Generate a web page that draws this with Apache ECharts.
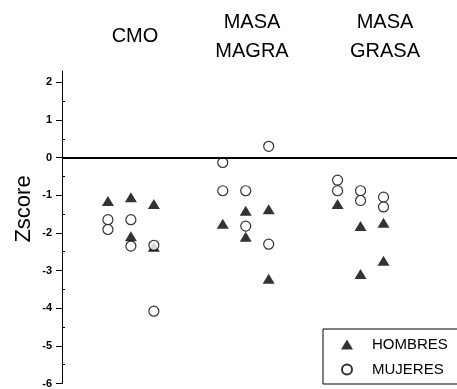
<!DOCTYPE html>
<html>
<head>
<meta charset="utf-8">
<script src="https://cdn.jsdelivr.net/npm/echarts@6/dist/echarts.min.js"></script>
<style>
html,body{margin:0;padding:0;background:#fff;}
#c{width:457px;height:389px;}
</style>
</head>
<body>
<div id="c"></div>
<script>
// Group titles and tick values
const groupTitles = ['CMO', 'MASA\nMAGRA', 'MASA\nGRASA'];
const yTicks = [-6, -5, -4, -3, -2, -1, 0, 1, 2];
const yMinorTicks = [-5.5, -4.5, -3.5, -2.5, -1.5, -0.5, 0.5, 1.5];

// HOMBRES: [x position, Zscore]
const hombres = [
  [1, -1.15], [2, -1.05], [2, -2.09], [3, -1.23], [3, -2.37],
  [6, -1.76], [7, -1.41], [7, -2.10], [8, -1.37], [8, -3.22],
  [11, -1.23], [12, -1.82], [12, -3.09], [13, -1.73], [13, -2.74]
];
// MUJERES: [x position, Zscore]
const mujeres = [
  [1, -1.65], [1, -1.91], [2, -1.65], [2, -2.35], [3, -2.33], [3, -4.08],
  [6, -0.13], [6, -0.88], [7, -0.88], [7, -1.82], [8, 0.30], [8, -2.30],
  [11, -0.60], [11, -0.88], [12, -0.88], [12, -1.14], [13, -1.05], [13, -1.31]
];

const FONT = 'Liberation Sans, Arial, sans-serif';
const chart = echarts.init(document.getElementById('c'));
chart.setOption({
  animation: false,
  backgroundColor: '#fff',
  grid: { left: 62, right: 0, top: 71, bottom: 4 },
  xAxis: { type: 'value', min: -1, max: 16.2, show: false },
  yAxis: [{
    type: 'value', min: -6, max: 2.3, interval: 1,
    axisLine: { show: true, onZero: false, lineStyle: { color: '#000', width: 1 } },
    axisTick: { show: true, length: 6, lineStyle: { color: '#000' }, customValues: yTicks },
    axisLabel: { customValues: yTicks, color: '#000', fontWeight: 'bold', fontSize: 11, fontFamily: FONT, margin: 10 },
    splitLine: { show: false }
  }, {
    type: 'value', min: -6, max: 2.3, position: 'left', offset: 0,
    axisLine: { show: false, onZero: false },
    axisTick: { show: true, inside: true, length: 3, lineStyle: { color: '#000' }, customValues: yMinorTicks },
    axisLabel: { show: false },
    splitLine: { show: false }
  }],
  legend: {
    orient: 'vertical', left: 323, top: 329,
    data: ['HOMBRES', 'MUJERES'],
    borderColor: '#000', borderWidth: 1, borderRadius: 0,
    padding: [8, 20, 7, 18], itemWidth: 12, itemHeight: 10, itemGap: 10,
    textStyle: { fontSize: 15, fontFamily: FONT, color: '#000', padding: [0, 0, 0, 14] }
  },
  graphic: [
    { type: 'text', x: 135, y: 36, style: { text: groupTitles[0], fill: '#000', font: '20px ' + FONT, textAlign: 'center', textVerticalAlign: 'middle' } },
    { type: 'text', x: 252, y: 37, style: { text: groupTitles[1], fill: '#000', font: '20px ' + FONT, lineHeight: 29, textAlign: 'center', textVerticalAlign: 'middle' } },
    { type: 'text', x: 385, y: 37, style: { text: groupTitles[2], fill: '#000', font: '20px ' + FONT, lineHeight: 29, textAlign: 'center', textVerticalAlign: 'middle' } },
    { type: 'text', x: 24, y: 209, rotation: Math.PI / 2, style: { text: 'Zscore', fill: '#000', font: '22px ' + FONT, textAlign: 'center', textVerticalAlign: 'middle' } }
  ],
  series: [
    {
      name: 'HOMBRES', type: 'scatter', data: hombres, z: 3,
      symbol: 'triangle', symbolSize: [12, 10],
      itemStyle: { color: '#000' },
      markLine: {
        silent: true, symbol: 'none', label: { show: false },
        lineStyle: { color: '#000', width: 2, type: 'solid' },
        data: [{ yAxis: 0 }]
      }
    },
    {
      name: 'MUJERES', type: 'scatter', data: mujeres, z: 4,
      symbol: 'circle', symbolSize: 10,
      itemStyle: { color: '#fff', borderColor: '#000', borderWidth: 1.2 }
    }
  ]
});
</script>
</body>
</html>
